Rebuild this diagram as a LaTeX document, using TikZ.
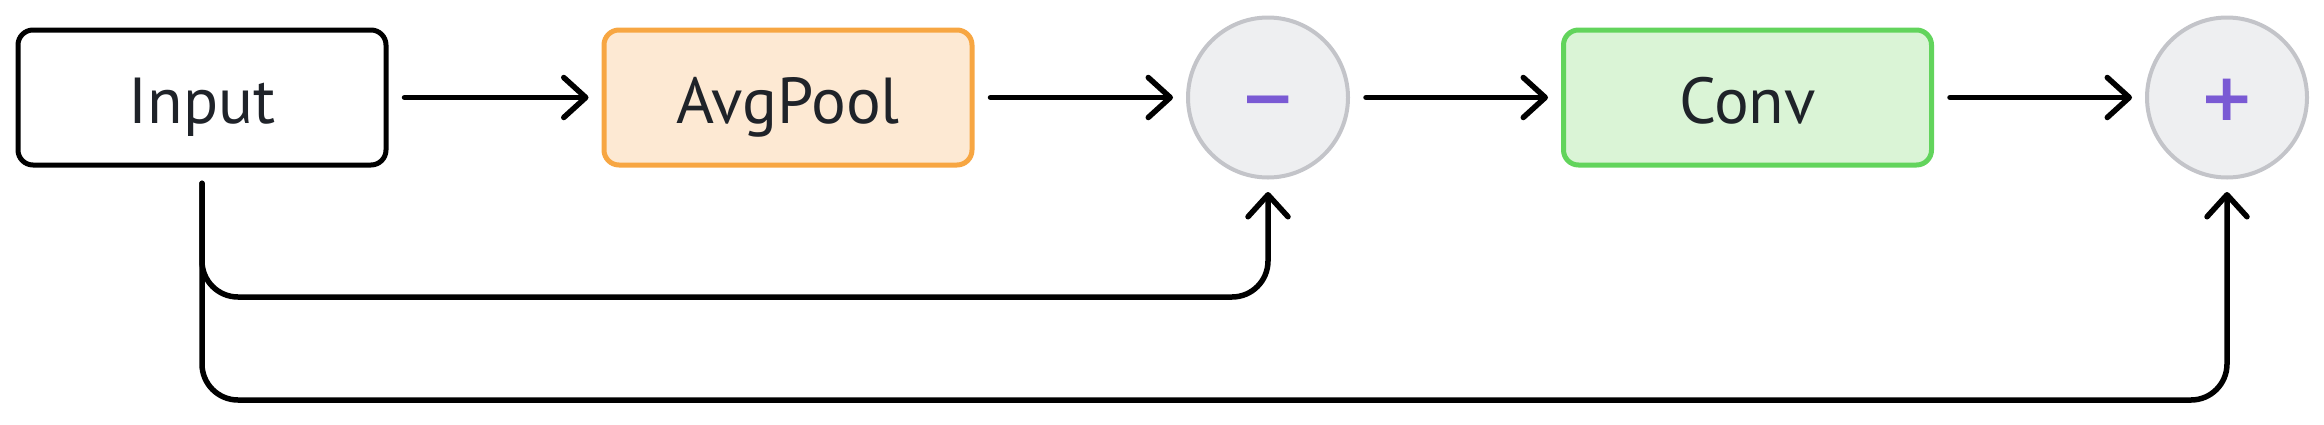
\documentclass[tikz,border=0pt]{standalone}
\usepackage{fontspec}
\setmainfont{PT Sans}
\newfontfamily\symfont{DejaVu Sans}
\usetikzlibrary{arrows.meta}
\definecolor{txt}{HTML}{1F2329}
\definecolor{pfill}{HTML}{FDE9D3}
\definecolor{pdraw}{HTML}{F7A642}
\definecolor{cfill}{HTML}{DAF4D6}
\definecolor{cdraw}{HTML}{62D45C}
\definecolor{ofill}{HTML}{EEEFF1}
\definecolor{odraw}{HTML}{C3C4C9}
\definecolor{sym}{HTML}{7A5AD4}
\begin{document}
\begin{tikzpicture}[x=0.5pt,y=-0.5pt,
  box/.style={draw=black, line width=2.5pt, rounded corners=7.5pt, minimum width=184pt, minimum height=67.5pt, inner sep=0pt, text=txt, text height=25.5pt, text depth=0pt, font=\fontsize{32.5}{36}\selectfont},
  pool/.style={box, draw=pdraw, fill=pfill},
  convbox/.style={box, draw=cdraw, fill=cfill},
  opnode/.style={circle, draw=odraw, fill=ofill, line width=2pt, minimum size=80pt, inner sep=0pt, text=sym, text height=23pt, text depth=0pt, font=\fontsize{33}{33}\selectfont\symfont\bfseries},
  conn/.style={draw=black, line width=2.75pt, line cap=round, -{Straight Barb[length=11pt,width=20pt,round]}, shorten <=8pt, shorten >=6.5pt},
  skip/.style={conn, rounded corners=18pt, shorten <=7.9pt, shorten >=6.25pt}]
\useasboundingbox (0,0) rectangle (2324,424);
\node[box] (in) at (202,97.5) {Input};
\node[pool] (pool) at (788,97.5) {AvgPool};
\node[opnode] (minus) at (1268,97.5) {−};
\node[convbox] (conv) at (1747.5,97.5) {Conv};
\node[opnode] (plus) at (2227,97.5) {+};
\coordinate (y1) at (0,297);
\coordinate (y2) at (0,400);
\draw[conn] (in) -- (pool);
\draw[conn] (pool) -- (minus);
\draw[conn] (minus) -- (conv);
\draw[conn] (conv) -- (plus);
\draw[skip] (in.south) -- (in.south |- y1) -- (minus.south |- y1) -- (minus.south);
\draw[skip] (in.south) -- (in.south |- y2) -- (plus.south |- y2) -- (plus.south);
\end{tikzpicture}
\end{document}
